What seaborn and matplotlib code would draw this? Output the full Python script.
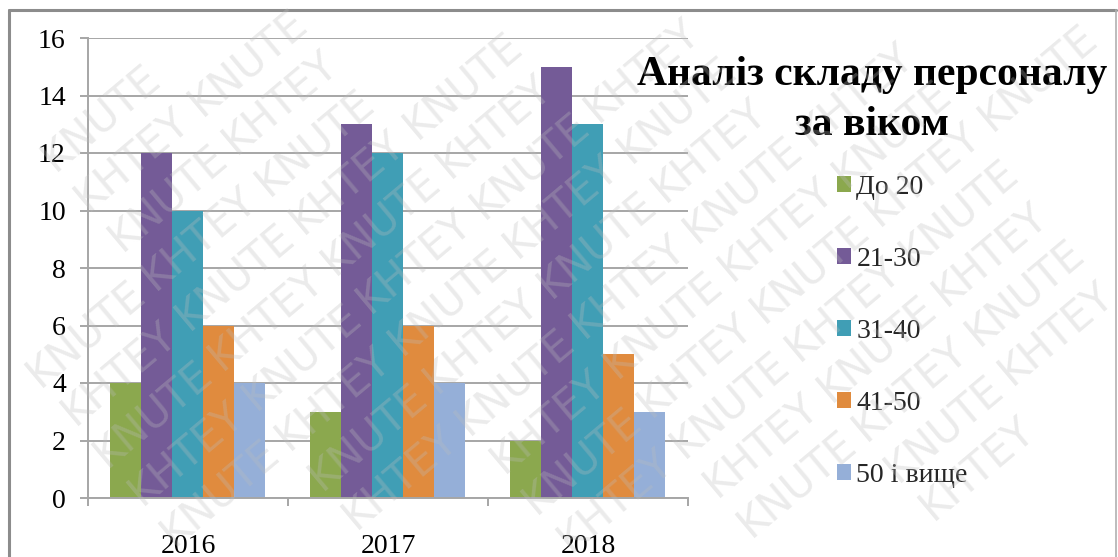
import numpy as np
import pandas as pd
import matplotlib
matplotlib.use("Agg")
import matplotlib.pyplot as plt
from matplotlib.textpath import TextPath
from matplotlib.font_manager import FontProperties
import seaborn as sns

years = ["2016", "2017", "2018"]
groups = ["До 20", "21-30", "31-40", "41-50", "50 і вище"]
v_do20 = [4, 3, 2]
v_21_30 = [12, 13, 15]
v_31_40 = [10, 12, 13]
v_41_50 = [6, 6, 5]
v_50plus = [4, 4, 3]
colors = ["#8BA84E", "#745B97", "#409EB5", "#E08B3E", "#95AFD8"]
yticks = [0, 2, 4, 6, 8, 10, 12, 14, 16]
title = "Аналіз складу персоналу\nза віком"
watermark_words = ["KHTEY", "KNUTE"]

series = [v_do20, v_21_30, v_31_40, v_41_50, v_50plus]
rows = []
for g, vals in zip(groups, series):
    for y, v in zip(years, vals):
        rows.append({"year": y, "group": g, "value": v})
df = pd.DataFrame(rows)

sns.set_theme(style="white")
plt.rcParams["font.family"] = ["Liberation Serif", "DejaVu Serif"]

W, H = 1118, 557
fig = plt.figure(figsize=(W / 100, H / 100), dpi=100)
fig.patch.set_facecolor("white")

ax = fig.add_axes([88 / W, 1 - 498 / H, 600 / W, 460 / H])
sns.barplot(data=df, x="year", y="value", hue="group", hue_order=groups,
            order=years, palette=colors, width=0.775, gap=0, saturation=1,
            edgecolor="none", linewidth=0, ax=ax, legend=True, errorbar=None)

ax.set_xlim(-0.5, 2.5)
ax.set_ylim(0, 16)
ax.set_yticks(yticks)
ax.set_yticklabels([str(t) for t in yticks], fontsize=20, color="black")
ax.set_xticks([0, 1, 2])
ax.set_xticklabels(years, fontsize=20, color="black")
ax.set_xlabel("")
ax.set_ylabel("")
ax.grid(axis="y", color="#a6a6a6", linewidth=1.4)
ax.set_axisbelow(True)
for s in ["top", "right"]:
    ax.spines[s].set_visible(False)
for s in ["left", "bottom"]:
    ax.spines[s].set_color("#a6a6a6")
    ax.spines[s].set_linewidth(1.4)
ax.tick_params(axis="y", length=6, width=1.4, color="#a6a6a6", pad=10, left=True)
ax.tick_params(axis="x", length=0, pad=26, bottom=True)
ax.set_xticks([-0.5, 0.5, 1.5, 2.5], minor=True)
ax.tick_params(axis="x", which="minor", length=6, width=1.4, color="#a6a6a6", bottom=True)

handles, labels = ax.get_legend_handles_labels()
ax.legend_.remove()
fig.legend(handles, labels, loc="upper left", bbox_to_anchor=(837 / W, 1 - 175 / H),
           frameon=False, fontsize=20, handlelength=0.5, handleheight=0.5,
           handletextpad=0.2, labelspacing=1.69, borderpad=0, borderaxespad=0)

fig.text(872 / W, 1 - 100 / H, title, ha="center", va="center", fontsize=30,
         fontweight="bold", linespacing=1.38, color="black")

# outer frame
fig.add_artist(plt.Line2D([9 / W, 9 / W], [0, 1 - 10 / H], transform=fig.transFigure,
                          color="#8c8c8c", linewidth=2.2))
fig.add_artist(plt.Line2D([9 / W, 1116 / W], [1 - 10 / H, 1 - 10 / H], transform=fig.transFigure,
                          color="#8c8c8c", linewidth=2.2))
fig.add_artist(plt.Line2D([1116 / W, 1116 / W], [0, 1 - 10 / H], transform=fig.transFigure,
                          color="#b0b0b0", linewidth=1.2))

# watermark (only words that fit completely inside the figure)
fs = 30
fp = FontProperties(family="DejaVu Sans", size=fs)
ang = np.deg2rad(40)
d = np.array([np.cos(ang), np.sin(ang)])
p = np.array([-np.sin(ang), np.cos(ang)])
px_per_pt = 100 / 72
step_perp = 52
for i in range(-20, 24):
    x0 = p * step_perp * i
    t = -1200.0
    k = (i % 2)
    while t < 1800:
        word = watermark_words[k % 2]
        wlen = TextPath((0, 0), word, prop=fp).get_extents().width * px_per_pt
        start = x0 + d * t
        corners = [start, start + d * wlen, start + p * 30, start + d * wlen + p * 30]
        if all(2 < c[0] < W - 4 and 2 < c[1] < H - 4 for c in corners):
            fig.text(start[0] / W, start[1] / H, word, fontsize=fs,
                     family="DejaVu Sans", color="#bdbdbd", alpha=0.3,
                     rotation=40, rotation_mode="anchor", ha="left", va="baseline",
                     zorder=10)
        t += wlen + 16
        k += 1

fig.savefig("out.png", dpi=100, facecolor="white")
